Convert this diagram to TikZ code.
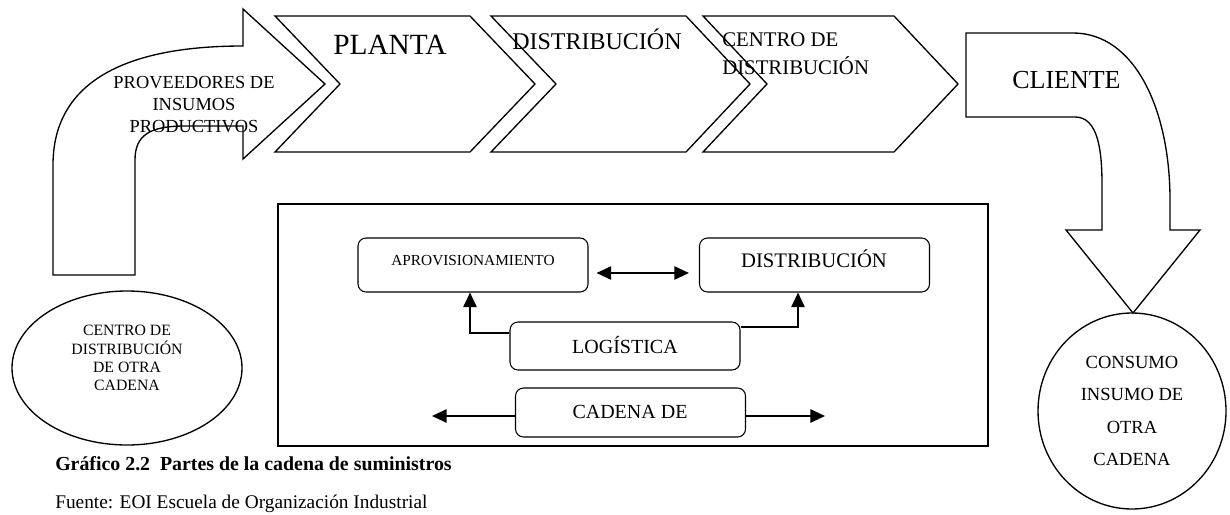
\documentclass[tikz,border=0pt]{standalone}
\usepackage{fontspec}
\setmainfont{Liberation Serif}
\usetikzlibrary{arrows.meta,shapes.geometric}
\begin{document}
\begin{tikzpicture}[x=0.75pt,y=-0.75pt,
  shp/.style={draw=black,line width=1pt,line join=miter},
  rbox/.style={draw=black,line width=0.8pt,rounded corners=6pt,inner sep=0pt,minimum width=172.5pt},
  oval/.style={draw=black,line width=1pt,ellipse,inner sep=0pt},
  arr/.style={line width=1.4pt,-{Triangle[length=11pt,width=10pt]}},
  lbl/.style={inner sep=0pt,align=center},
  fs/.style 2 args={font=\fontsize{#1}{#2}\selectfont}]
\clip (0,0) rectangle (1230,514);
\fill[white] (0,0) rectangle (1230,514);

% left bent arrow
\draw[shp] (53,275) -- (53,165) .. controls (53,85) and (120,46) .. (243,46)
  -- (243,9) -- (325,84) -- (243,159) -- (243,126)
  -- (185,126) .. controls (150,126) and (135,135) .. (135,160) -- (135,275) -- cycle;
% chevrons
\draw[shp] (275,16) -- (470,16) -- (535,84) -- (470,152) -- (275,152) -- (340,84) -- cycle;
\draw[shp] (491,16) -- (686,16) -- (750,84) -- (686,152) -- (491,152) -- (556,84) -- cycle;
\draw[shp] (703,16) -- (894,16) -- (958,84) -- (894,152) -- (703,152) -- (767,84) -- cycle;
% right bent arrow
\draw[shp] (966,33) -- (1073,33) .. controls (1135,33) and (1170,110) .. (1170,200)
  -- (1170,230) -- (1200,230) -- (1133,313) -- (1066,230) -- (1102,230) -- (1102,185)
  .. controls (1102,150) and (1098,117) .. (1075,117) -- (966,117) -- cycle;

% ovals
\node[oval,minimum width=172.5pt,minimum height=115.5pt] (otra) at (127,368) {};
\node[oval,minimum width=141pt,minimum height=147pt] (consumo) at (1132,411) {};

% top texts
\node[lbl,fs={13.8pt}{16.5pt}] (tprov) at (194,105) {PROVEEDORES DE\\INSUMOS\\PRODUCTIVOS};
\node[inner sep=0pt,anchor=base west,fs={22pt}{26pt}] (tplanta) at (333,54) {PLANTA};
\node[inner sep=0pt,anchor=base west,fs={18pt}{21pt}] (tdist) at (512,49) {DISTRIBUCIÓN};
\node[lbl,align=left,anchor=west,fs={15.6pt}{21pt}] (tcentro) at (722,54) {CENTRO DE\\DISTRIBUCIÓN};
\node[inner sep=0pt,anchor=base west,fs={19.5pt}{23pt}] (tcliente) at (1012,88) {CLIENTE};
\node[lbl,fs={11.8pt}{13.7pt}] (totra) at (127,358) {CENTRO DE\\DISTRIBUCIÓN\\DE OTRA\\CADENA};
\node[lbl,fs={13.9pt}{24.2pt}] (tconsumo) at (1132,411) {CONSUMO\\INSUMO DE\\OTRA\\CADENA};

% inner frame
\draw[line width=1.6pt] (278,204) rectangle (988,446);
\node[rbox,minimum height=40.5pt] (aprov) at (473,265) {};
\node[rbox,minimum height=40.5pt] (distrib) at (814.5,265) {};
\node[rbox,minimum height=36pt] (logi) at (625,346) {};
\node[rbox,minimum height=36.75pt] (cadena) at (630.5,412.5) {};
\node[inner sep=0pt,anchor=base,fs={11.5pt}{13pt}] (taprov) at (473,265) {APROVISIONAMIENTO};
\node[inner sep=0pt,anchor=base,fs={15.5pt}{18pt}] (tdistrib) at (814,267) {DISTRIBUCIÓN};
\node[inner sep=0pt,anchor=base,fs={15pt}{18pt}] (tlogi) at (625,353) {LOGÍSTICA};
\node[inner sep=0pt,anchor=base,fs={15pt}{18pt}] (tcadena) at (630,418) {CADENA DE};

% connectors
\draw[line width=1.4pt,{Triangle[length=11pt,width=10pt]}-{Triangle[length=11pt,width=10pt]}]
  ([shift={(6pt,-6pt)}]aprov.east) -- ([shift={(-7.5pt,-6pt)}]distrib.west);
\coordinate (ke1) at (470,333);
\coordinate (ke2) at (798,327);
\draw[arr] (logi.west |- ke1) -| (aprov.south -| ke1);
\draw[arr] (logi.east |- ke2) -| (distrib.south -| ke2);
\coordinate (cl) at (432,416);
\coordinate (cr) at (825,416);
\draw[arr] (cadena.west |- cl) -- (cl);
\draw[arr] (cadena.east |- cr) -- (cr);

% caption
\node[inner sep=0pt,anchor=base west,fs={14.9pt}{17pt}] (cap) at (55,470) {\bfseries Gráfico 2.2\ \ Partes de la cadena de suministros};
\node[inner sep=0pt,anchor=base west,fs={14.5pt}{17pt}] (src) at (55,508) {Fuente: EOI Escuela de Organización Industrial};
\end{tikzpicture}
\end{document}
